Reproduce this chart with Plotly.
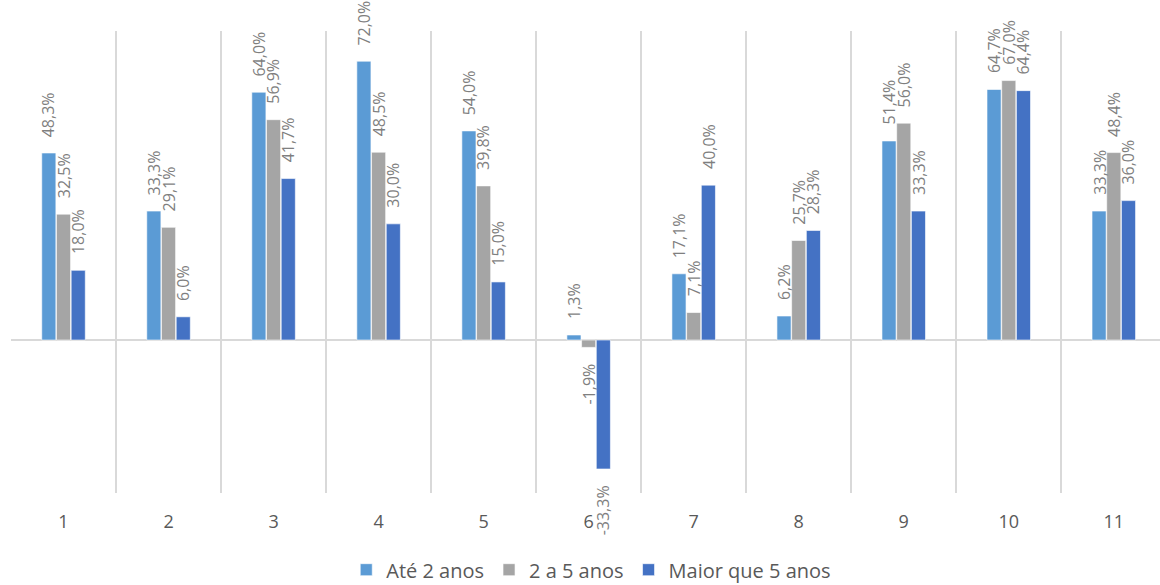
import plotly.graph_objects as go

# Categories and the three series (percent values)
categories = ["1", "2", "3", "4", "5", "6", "7", "8", "9", "10", "11"]
ate_2_anos = [48.3, 33.3, 64.0, 72.0, 54.0, 1.3, 17.1, 6.2, 51.4, 64.7, 33.3]
de_2_a_5_anos = [32.5, 29.1, 56.9, 48.5, 39.8, -1.9, 7.1, 25.7, 56.0, 67.0, 48.4]
maior_que_5_anos = [18.0, 6.0, 41.7, 30.0, 15.0, -33.3, 40.0, 28.3, 33.3, 64.4, 36.0]

series = [
    ("Até 2 anos", ate_2_anos, "#5B9BD5"),
    ("2 a 5 anos", de_2_a_5_anos, "#A5A5A5"),
    ("Maior que 5 anos", maior_que_5_anos, "#4472C4"),
]

FONT = "Open Sans"
W, H = 1160, 585
margin = dict(l=11, r=0, t=31, b=92, autoexpand=False)
x_range = [-0.5, 10.44]
bargap = 0.58

fig = go.Figure()
for name, vals, color in series:
    fig.add_trace(go.Bar(
        x=categories, y=vals, name=name,
        marker=dict(color=color, line=dict(color="white", width=0.6)),
    ))

# Pixel offset of each series bar inside a category group
plot_w = W - margin["l"] - margin["r"]
cat_px = plot_w / (x_range[1] - x_range[0])
slot_px = cat_px * (1 - bargap) / len(series)

annotations = []
for i, (name, vals, color) in enumerate(series):
    dx = (i - 1) * slot_px
    for j, v in enumerate(vals):
        label = f"{v:.1f}%".replace(".", ",")
        annotations.append(dict(
            x=j, y=v, xref="x", yref="y",
            text=label, showarrow=False, textangle=-90,
            xanchor="center",
            yanchor="bottom" if v >= 0 else "top",
            xshift=dx, yshift=14 if v >= 0 else -14,
            font=dict(family=FONT, size=16, color="#7F7F7F"),
        ))

fig.update_layout(
    width=W, height=H, margin=margin,
    paper_bgcolor="white", plot_bgcolor="white",
    barmode="group", bargap=bargap, bargroupgap=0.04,
    font=dict(family=FONT, color="#595959"),
    annotations=annotations,
    showlegend=True,
    legend=dict(
        orientation="h", x=0.505, xanchor="center", y=-0.166, yanchor="middle",
        font=dict(family=FONT, size=20, color="#595959"),
        itemwidth=30, traceorder="normal",
    ),
    xaxis=dict(
        type="category", range=x_range, tickson="boundaries",
        showgrid=True, gridcolor="#D9D9D9", gridwidth=1.5,
        ticks="", showline=False, zeroline=False,
        ticklabelstandoff=16,
        tickfont=dict(family=FONT, size=18, color="#595959"),
    ),
    yaxis=dict(
        range=[-39.5, 79.8], showgrid=False, showticklabels=False,
        zeroline=True, zerolinecolor="#D9D9D9", zerolinewidth=1.5,
        showline=False, ticks="",
    ),
)

fig.write_html("out.html")
